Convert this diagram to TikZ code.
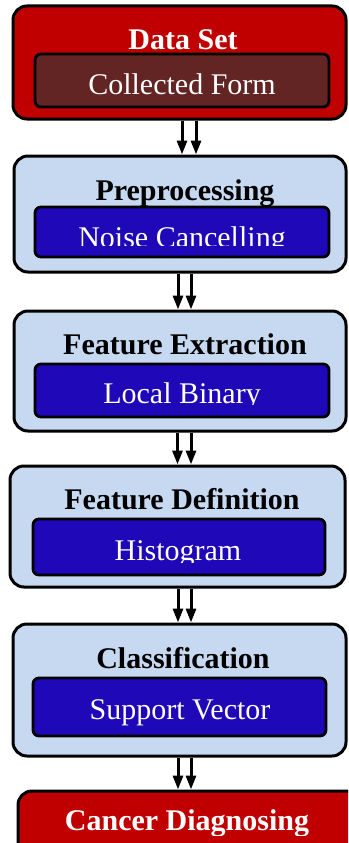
\documentclass[tikz,border=0pt]{standalone}
\usepackage{fontspec}
\setmainfont{Liberation Serif}
\usetikzlibrary{arrows.meta}
\definecolor{boxred}{HTML}{C00000}
\definecolor{boxmaroon}{HTML}{632523}
\definecolor{boxpale}{HTML}{C6D9F1}
\definecolor{boxblue}{HTML}{1E08B8}
\begin{document}
\begin{tikzpicture}[x=1pt,y=-1pt,
  stage/.style={draw=black, line width=3pt, rounded corners=14pt, inner sep=0pt},
  method/.style={draw=black, line width=2.8pt, rounded corners=6pt, inner sep=0pt},
  heading/.style={anchor=base, inner sep=0pt, font=\fontsize{30}{36}\selectfont\bfseries},
  label/.style={anchor=base, inner sep=0pt, text=white, font=\fontsize{30}{36}\selectfont},
  flow/.style={draw=black, line width=3pt, -{Triangle[length=14pt,width=10pt]}}
]
\useasboundingbox (0,0) rectangle (348,843);
\fill[white] (0,0) rectangle (348,843);
\clip (0,0) rectangle (348,843);

% stage boxes
\node[stage, fill=boxred,  minimum width=333pt, minimum height=113pt] (b1) at (179.5,62.5) {};
\node[stage, fill=boxpale, minimum width=332pt, minimum height=116pt] (b2) at (180,214) {};
\node[stage, fill=boxpale, minimum width=332pt, minimum height=120pt] (b3) at (180,371) {};
\node[stage, fill=boxpale, minimum width=335pt, minimum height=121pt] (b4) at (177.5,526.5) {};
\node[stage, fill=boxpale, minimum width=333pt, minimum height=132pt] (b5) at (179.5,690) {};
\node[stage, fill=boxred,  minimum width=342pt, minimum height=79pt]  (b6) at (189,830.5) {};

% method boxes
\node[method, fill=boxmaroon, minimum width=294pt, minimum height=53pt] (i1) at (182,80.5) {};
\node[method, fill=boxblue,   minimum width=294pt, minimum height=50pt] (i2) at (182,232) {};
\node[method, fill=boxblue,   minimum width=294pt, minimum height=53pt] (i3) at (182,390.5) {};
\node[method, fill=boxblue,   minimum width=292pt, minimum height=56pt] (i4) at (179,547) {};
\node[method, fill=boxblue,   minimum width=293pt, minimum height=58pt] (i5) at (179.5,707) {};

% headings
\node[heading, text=white] (t1) at (183,50)  {Data Set};
\node[heading]             (t2) at (185,200) {Preprocessing};
\node[heading]             (t3) at (185,354) {Feature Extraction};
\node[heading]             (t4) at (182,509) {Feature Definition};
\node[heading]             (t5) at (183,668) {Classification};
\begin{scope}
  \clip (0,0) rectangle (348,835);
  \node[heading, text=white] (t6) at (187,830) {Cancer Diagnosing};
\end{scope}

% method labels
\node[label] (s1) at (182,94) {Collected Form};
\begin{scope}
  \clip (0,0) rectangle (348,245);
  \node[label] (s2) at (182,247) {Noise Cancelling};
\end{scope}
\begin{scope}
  \clip (0,0) rectangle (348,404.5);
  \node[label] (s3) at (182,403) {Local Binary};
\end{scope}
\begin{scope}
  \clip (0,0) rectangle (348,562.5);
  \node[label] (s4) at (178,560) {Histogram};
\end{scope}
\node[label] (s5) at (180,719) {Support Vector};

% paired connectors between stages
\foreach \a/\b/\da/\db in {b1/b2/2.5/16.5, b2/b3/-2/11, b3/b4/-2.5/11, b4/b5/0.5/13.5, b5/b6/-1.5/11.5}{
  \draw[flow] ([xshift=\da pt]\a.south) -- ([xshift=\da pt]\a.south |- \b.north);
  \draw[flow] ([xshift=\db pt]\a.south) -- ([xshift=\db pt]\a.south |- \b.north);
}
\end{tikzpicture}
\end{document}
